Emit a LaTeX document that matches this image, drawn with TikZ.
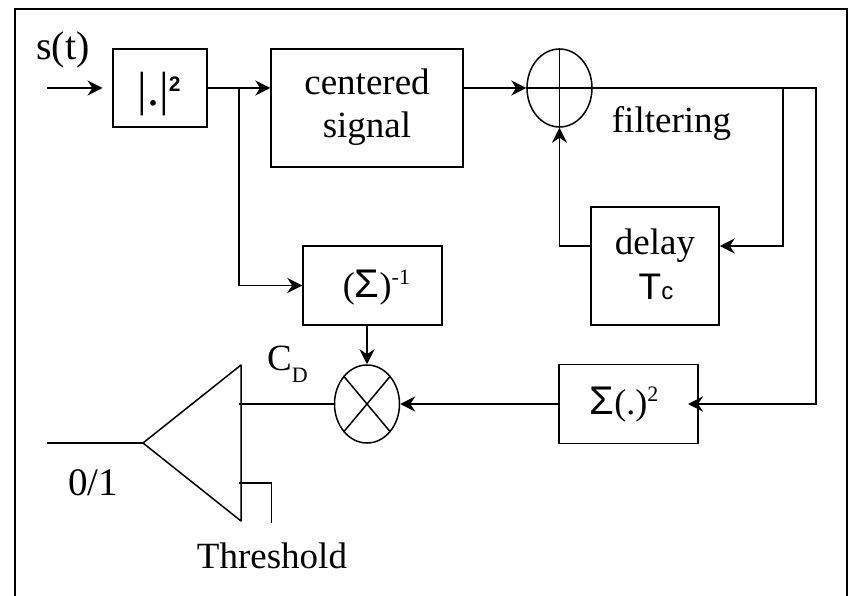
\documentclass[tikz,border=0pt]{standalone}
\usepackage{fontspec}
\setmainfont{Liberation Serif}
\setsansfont{Liberation Sans}
\usetikzlibrary{arrows.meta,shapes.geometric}
\newcommand{\sigmaglyph}{{\sffamily\fontsize{40}{40}\selectfont Σ}}
\tikzset{
	blockbox/.style={draw, line width=1.5pt, inner sep=0pt, align=center, font=\fontsize{37}{43}\selectfont},
	roundop/.style={draw, ellipse, line width=1.5pt, inner sep=0pt, minimum width=65, minimum height=78},
	wire/.style={line width=1.5pt},
	tag/.style={inner sep=0pt, font=\fontsize{37}{43}\selectfont},
	>={Stealth[length=15pt, width=15pt, inset=5pt]}
}
\begin{document}
\begin{tikzpicture}[x=1pt, y=-1pt]
	\useasboundingbox (0,0) rectangle (851,596);
	\draw[wire] (15,596) -- (15,9) -- (847,9) -- (847,596);
	% blocks
	\node[blockbox, minimum width=94, minimum height=78] (absq) at (160,88) {};
	\node[blockbox, minimum width=192, minimum height=118] (center) at (367,108) {};
	\node[roundop] (sum) at (559.5,88) {};
	\node[blockbox, minimum width=128, minimum height=118] (delay) at (655,266) {};
	\node[blockbox, minimum width=139, minimum height=79] (inv) at (372.5,285.5) {};
	\node[blockbox, minimum width=139, minimum height=79] (power) at (628.5,404) {};
	\node[roundop] (mult) at (367,404) {};
	% block texts
	\node[tag, anchor=base] (lbabs) at (159,106) {{\fontsize{48}{48}\selectfont |.|}\raisebox{14pt}{\sffamily\bfseries\fontsize{21}{21}\selectfont 2}};
	\node[tag, anchor=base] (lbcen) at (367,95) {centered};
	\node[tag, anchor=base] (lbsig) at (367,138) {signal};
	\node[tag, anchor=base] (lbdel) at (655,254) {delay};
	\node[tag, anchor=base] (lbtc) at (656,299) {{\sffamily T\fontsize{24}{24}\selectfont c}};
	\node[tag, anchor=base] (lbinv) at (376.5,297) {{\fontsize{36}{36}\selectfont (}\sigmaglyph{\fontsize{36}{36}\selectfont )}\raisebox{13pt}{\fontsize{22}{22}\selectfont -1}};
	\node[tag, anchor=base] (lbpow) at (624,414) {\sigmaglyph{\fontsize{36}{36}\selectfont (.)}\raisebox{13pt}{\fontsize{22}{22}\selectfont 2}};
	% cross marks
	\draw[wire] (sum.north) -- (sum.south);
	\draw[wire] (sum.west) -- (sum.east);
	\draw[wire] (mult.north west) -- (mult.south east);
	\draw[wire] (mult.north east) -- (mult.south west);
	% decision
	\coordinate (apex) at (143,443);
	\coordinate (top) at (241,365);
	\coordinate (bot) at (241,521);
	\draw[wire, line join=round] (apex) -- (top) -- (bot) -- cycle;
	\coordinate (in) at (47,88);
	\coordinate (intip) at (102.5,88);
	\coordinate (out) at (47,443);
	\coordinate (cdin) at (239,404);
	\coordinate (thr) at (239,483);
	\coordinate (thrc) at (271.5,483);
	\coordinate (thrend) at (271.5,523);
	\coordinate (split) at (239,88);
	\coordinate (splitb) at (239,285.5);
	\coordinate (tap) at (783,88);
	\coordinate (tapb) at (783,246);
	\coordinate (corner) at (816,88);
	\coordinate (cornerb) at (816,404);
	\coordinate (powertip) at (688,404);
	\coordinate (back) at (559.5,246);
	% connectors
	\draw[->, wire] (in) -- (intip);
	\draw[->, wire] (absq.east) -- (center.west |- absq.east);
	\draw[->, wire] (split) -- (splitb) -- (inv.west);
	\draw[->, wire] (center.east |- sum.west) -- (sum.west);
	\draw[->, wire] (sum.east) -- (corner) -- (cornerb) -- (powertip);
	\draw[->, wire] (tap) -- (tapb) -- (delay.east |- tapb);
	\draw[->, wire] (delay.west |- back) -- (back) -- (sum.south);
	\draw[->, wire] (power.west) -- (mult.east);
	\draw[->, wire] (inv.south -| mult) -- (mult.north);
	\draw[wire] (mult.west) -- (cdin);
	\draw[wire] (thr) -- (thrc) -- (thrend);
	\draw[wire] (out) -- (apex);
	% labels
	\node[tag, anchor=base, font=\fontsize{40}{46}\selectfont] (lbs) at (63,60) {s(t)};
	\node[tag, anchor=base] (lbf) at (671.5,133) {filtering};
	\node[tag, anchor=base west] (lbc) at (267,370) {C\raisebox{-12pt}{\fontsize{22}{22}\selectfont D}};
	\node[tag, anchor=base, font=\fontsize{39}{45}\selectfont] (lbo) at (93,495) {0/1};
	\node[tag, anchor=base] (lbt) at (272,568) {Threshold};
\end{tikzpicture}
\end{document}
